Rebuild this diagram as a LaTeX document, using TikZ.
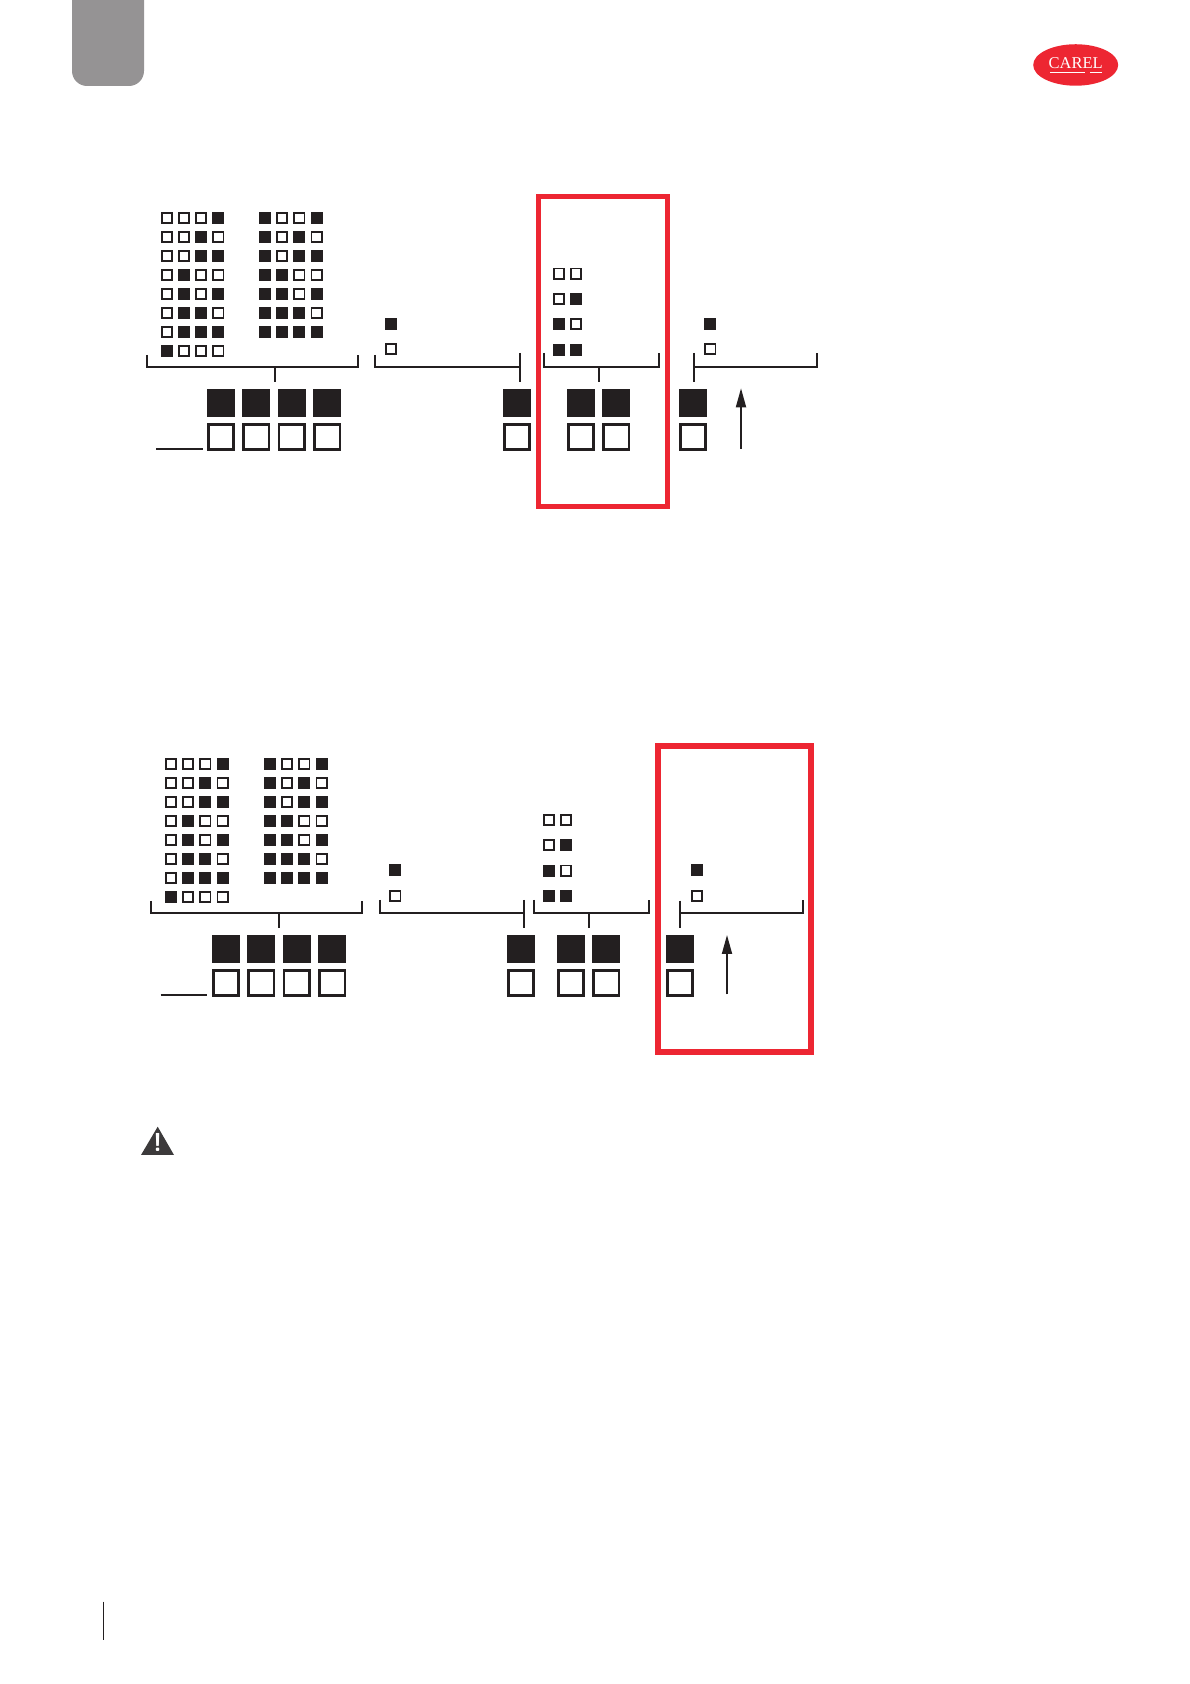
\documentclass[tikz,border=0pt]{standalone}
\usepackage{tikz}
\usepackage{fontspec}
\usetikzlibrary{arrows.meta,shapes.geometric}
\newfontfamily\logofont{Liberation Serif}
\definecolor{ink}{RGB}{35,31,32}
\definecolor{framered}{RGB}{237,38,50}
\definecolor{tabgray}{RGB}{149,147,148}
\definecolor{warngray}{RGB}{60,58,59}

\begin{document}
\begin{tikzpicture}[x=1pt, y=1pt,
  on/.style = {rectangle, fill=ink, minimum size=12pt, inner sep=0pt, node distance=17.2pt},
  off/.style = {rectangle, draw=ink, line width=1.8pt, minimum size=10.2pt, inner sep=0pt, node distance=17.2pt},
  bigon/.style = {rectangle, fill=ink, minimum size=28pt, inner sep=0pt, node distance=35.4pt},
  bigoff/.style = {rectangle, draw=ink, line width=2.6pt, minimum size=25.4pt, inner sep=0pt, node distance=35.4pt},
  nextrow/.style = {node distance=19pt, below of=#1},
  nextpair/.style = {node distance=25.3pt, below of=#1},
  under/.style = {node distance=34pt, below of=#1},
  rule/.style = {draw=ink, line width=1.8pt},
  frame/.style = {draw=framered, line width=4.8pt}]
\useasboundingbox (0,0) rectangle (1190,1684);

\fill[tabgray] (72,1684) [rounded corners=15pt] -- (72,1598) -- (144,1598) [sharp corners] -- (144,1684) -- cycle;
\node[ellipse, fill=framered, minimum width=85pt, minimum height=41.5pt, inner sep=0pt] (logo) at (1075.7,1619) {};
\node[text=white, font=\logofont\fontsize{16.5}{16.5}\selectfont, inner sep=0pt] (carel) at (1075.7,1621) {CAREL};
\draw[white, line width=1pt] (1050,1611) -- (1085,1611) (1090,1611) -- (1101.7,1611);

\node[off] (a11) at (166.7,1466) {};
\node[off] (a12) [right of=a11] {}; \node[off] (a13) [right of=a12] {}; \node[on] (a14) [right of=a13] {};
\node[off] (a21) [nextrow=a11] {}; \node[off] (a22) [right of=a21] {}; \node[on] (a23) [right of=a22] {}; \node[off] (a24) [right of=a23] {};
\node[off] (a31) [nextrow=a21] {}; \node[off] (a32) [right of=a31] {}; \node[on] (a33) [right of=a32] {}; \node[on] (a34) [right of=a33] {};
\node[off] (a41) [nextrow=a31] {}; \node[on] (a42) [right of=a41] {}; \node[off] (a43) [right of=a42] {}; \node[off] (a44) [right of=a43] {};
\node[off] (a51) [nextrow=a41] {}; \node[on] (a52) [right of=a51] {}; \node[off] (a53) [right of=a52] {}; \node[on] (a54) [right of=a53] {};
\node[off] (a61) [nextrow=a51] {}; \node[on] (a62) [right of=a61] {}; \node[on] (a63) [right of=a62] {}; \node[off] (a64) [right of=a63] {};
\node[off] (a71) [nextrow=a61] {}; \node[on] (a72) [right of=a71] {}; \node[on] (a73) [right of=a72] {}; \node[on] (a74) [right of=a73] {};
\node[on] (a81) [nextrow=a71] {}; \node[off] (a82) [right of=a81] {}; \node[off] (a83) [right of=a82] {}; \node[off] (a84) [right of=a83] {};

\node[on] (b11) at (265,1466) {};
\node[off] (b12) [right of=b11] {}; \node[off] (b13) [right of=b12] {}; \node[on] (b14) [right of=b13] {};
\node[on] (b21) [nextrow=b11] {}; \node[off] (b22) [right of=b21] {}; \node[on] (b23) [right of=b22] {}; \node[off] (b24) [right of=b23] {};
\node[on] (b31) [nextrow=b21] {}; \node[off] (b32) [right of=b31] {}; \node[on] (b33) [right of=b32] {}; \node[on] (b34) [right of=b33] {};
\node[on] (b41) [nextrow=b31] {}; \node[on] (b42) [right of=b41] {}; \node[off] (b43) [right of=b42] {}; \node[off] (b44) [right of=b43] {};
\node[on] (b51) [nextrow=b41] {}; \node[on] (b52) [right of=b51] {}; \node[off] (b53) [right of=b52] {}; \node[on] (b54) [right of=b53] {};
\node[on] (b61) [nextrow=b51] {}; \node[on] (b62) [right of=b61] {}; \node[on] (b63) [right of=b62] {}; \node[off] (b64) [right of=b63] {};
\node[on] (b71) [nextrow=b61] {}; \node[on] (b72) [right of=b71] {}; \node[on] (b73) [right of=b72] {}; \node[on] (b74) [right of=b73] {};

\node[on] (e1) at (391,1360) {};
\node[off] (e2) [nextpair=e1] {};
\node[off] (f11) at (559,1410.3) {}; \node[off] (f12) [right of=f11] {};
\node[off] (f21) [nextpair=f11] {}; \node[on] (f22) [right of=f21] {};
\node[on] (f31) [nextpair=f21] {}; \node[off] (f32) [right of=f31] {};
\node[on] (f41) [nextpair=f31] {}; \node[on] (f42) [right of=f41] {};
\node[on] (i1) at (710.3,1360) {};
\node[off] (i2) [nextpair=i1] {};

\node[bigon] (g1) at (221,1281) {}; \node[bigon] (g2) [right of=g1] {}; \node[bigon] (g3) [right of=g2] {}; \node[bigon] (g4) [right of=g3] {};
\node[bigon] (g5) at (517,1281) {}; \node[bigon] (g6) at (581,1281) {}; \node[bigon] (g7) [right of=g6] {}; \node[bigon] (g8) at (693,1281) {};
\node[bigoff] (h1) [under=g1] {}; \node[bigoff] (h2) [under=g2] {}; \node[bigoff] (h3) [under=g3] {}; \node[bigoff] (h4) [under=g4] {};
\node[bigoff] (h5) [under=g5] {}; \node[bigoff] (h6) [under=g6] {}; \node[bigoff] (h7) [under=g7] {}; \node[bigoff] (h8) [under=g8] {};

\coordinate (k1a) at (146.7,1329); \coordinate (k1b) at (358,1329); \coordinate (k1m) at (275,1317.3); \coordinate (k1c) at (275,1302);
\coordinate (k2a) at (375,1329); \coordinate (k2b) at (520,1331); \coordinate (k2m) at (520,1317.3); \coordinate (k2c) at (520,1302);
\coordinate (k3a) at (544,1331); \coordinate (k3b) at (659,1331); \coordinate (k3m) at (599,1317.3); \coordinate (k3c) at (599,1302);
\coordinate (k4a) at (694,1331); \coordinate (k4b) at (817,1331); \coordinate (k4m) at (694,1317.3); \coordinate (k4c) at (694,1302);
\coordinate (n1) at (156,1235.3); \coordinate (n2) at (203,1235.3);
\coordinate (m1) at (741,1235.3); \coordinate (m2) at (741,1295.7);
\draw[rule] (k1a) |- (k1m) -| (k1b);
\draw[rule] (k1m) -- (k1c);
\draw[rule] (k2a) |- (k2m);
\draw[rule] (k2b) -- (k2c);
\draw[rule] (k3a) |- (k3m) -| (k3b);
\draw[rule] (k3m) -- (k3c);
\draw[rule] (k4a) -- (k4c);
\draw[rule] (k4m) -| (k4b);
\draw[rule] (n1) -- (n2);
\draw[rule, -{Triangle[length=19pt,width=10pt]}] (m1) -- (m2);
\draw[frame] (538.4,1487.3) rectangle (667.6,1177.7);

\node[off] (c11) at (171,920) {};
\node[off] (c12) [right of=c11] {}; \node[off] (c13) [right of=c12] {}; \node[on] (c14) [right of=c13] {};
\node[off] (c21) [nextrow=c11] {}; \node[off] (c22) [right of=c21] {}; \node[on] (c23) [right of=c22] {}; \node[off] (c24) [right of=c23] {};
\node[off] (c31) [nextrow=c21] {}; \node[off] (c32) [right of=c31] {}; \node[on] (c33) [right of=c32] {}; \node[on] (c34) [right of=c33] {};
\node[off] (c41) [nextrow=c31] {}; \node[on] (c42) [right of=c41] {}; \node[off] (c43) [right of=c42] {}; \node[off] (c44) [right of=c43] {};
\node[off] (c51) [nextrow=c41] {}; \node[on] (c52) [right of=c51] {}; \node[off] (c53) [right of=c52] {}; \node[on] (c54) [right of=c53] {};
\node[off] (c61) [nextrow=c51] {}; \node[on] (c62) [right of=c61] {}; \node[on] (c63) [right of=c62] {}; \node[off] (c64) [right of=c63] {};
\node[off] (c71) [nextrow=c61] {}; \node[on] (c72) [right of=c71] {}; \node[on] (c73) [right of=c72] {}; \node[on] (c74) [right of=c73] {};
\node[on] (c81) [nextrow=c71] {}; \node[off] (c82) [right of=c81] {}; \node[off] (c83) [right of=c82] {}; \node[off] (c84) [right of=c83] {};

\node[on] (d11) at (270,920) {};
\node[off] (d12) [right of=d11] {}; \node[off] (d13) [right of=d12] {}; \node[on] (d14) [right of=d13] {};
\node[on] (d21) [nextrow=d11] {}; \node[off] (d22) [right of=d21] {}; \node[on] (d23) [right of=d22] {}; \node[off] (d24) [right of=d23] {};
\node[on] (d31) [nextrow=d21] {}; \node[off] (d32) [right of=d31] {}; \node[on] (d33) [right of=d32] {}; \node[on] (d34) [right of=d33] {};
\node[on] (d41) [nextrow=d31] {}; \node[on] (d42) [right of=d41] {}; \node[off] (d43) [right of=d42] {}; \node[off] (d44) [right of=d43] {};
\node[on] (d51) [nextrow=d41] {}; \node[on] (d52) [right of=d51] {}; \node[off] (d53) [right of=d52] {}; \node[on] (d54) [right of=d53] {};
\node[on] (d61) [nextrow=d51] {}; \node[on] (d62) [right of=d61] {}; \node[on] (d63) [right of=d62] {}; \node[off] (d64) [right of=d63] {};
\node[on] (d71) [nextrow=d61] {}; \node[on] (d72) [right of=d71] {}; \node[on] (d73) [right of=d72] {}; \node[on] (d74) [right of=d73] {};

\node[on] (p1) at (395.3,813.5) {};
\node[off] (p2) [nextpair=p1] {};
\node[off] (q11) at (549,864) {}; \node[off] (q12) [right of=q11] {};
\node[off] (q21) [nextpair=q11] {}; \node[on] (q22) [right of=q21] {};
\node[on] (q31) [nextpair=q21] {}; \node[off] (q32) [right of=q31] {};
\node[on] (q41) [nextpair=q31] {}; \node[on] (q42) [right of=q41] {};
\node[on] (r1) at (697,813.5) {};
\node[off] (r2) [nextpair=r1] {};

\node[bigon] (s1) at (226,735) {}; \node[bigon] (s2) [right of=s1] {}; \node[bigon] (s3) [right of=s2] {}; \node[bigon] (s4) [right of=s3] {};
\node[bigon] (s5) at (521,735) {}; \node[bigon] (s6) at (571,735) {}; \node[bigon] (s7) [right of=s6] {}; \node[bigon] (s8) at (680,735) {};
\node[bigoff] (t1) [under=s1] {}; \node[bigoff] (t2) [under=s2] {}; \node[bigoff] (t3) [under=s3] {}; \node[bigoff] (t4) [under=s4] {};
\node[bigoff] (t5) [under=s5] {}; \node[bigoff] (t6) [under=s6] {}; \node[bigoff] (t7) [under=s7] {}; \node[bigoff] (t8) [under=s8] {};

\coordinate (u1a) at (150.7,783); \coordinate (u1b) at (362,783); \coordinate (u1m) at (279,771); \coordinate (u1c) at (279,755.7);
\coordinate (u2a) at (380,784); \coordinate (u2b) at (524,784); \coordinate (u2m) at (524,771); \coordinate (u2c) at (524,755.7);
\coordinate (u3a) at (534,784); \coordinate (u3b) at (649,784); \coordinate (u3m) at (589,771); \coordinate (u3c) at (589,755.7);
\coordinate (u4a) at (680,783.3); \coordinate (u4b) at (803.3,784); \coordinate (u4m) at (680,771); \coordinate (u4c) at (680,755.7);
\coordinate (v1) at (160.7,689.3); \coordinate (v2) at (207.3,689.3);
\coordinate (w1) at (727,689.7); \coordinate (w2) at (727,749);
\draw[rule] (u1a) |- (u1m) -| (u1b);
\draw[rule] (u1m) -- (u1c);
\draw[rule] (u2a) |- (u2m);
\draw[rule] (u2b) -- (u2c);
\draw[rule] (u3a) |- (u3m) -| (u3b);
\draw[rule] (u3m) -- (u3c);
\draw[rule] (u4a) -- (u4c);
\draw[rule] (u4m) -| (u4b);
\draw[rule] (v1) -- (v2);
\draw[rule, -{Triangle[length=19pt,width=10pt]}] (w1) -- (w2);
\draw[frame, line width=6pt] (658,938) rectangle (811,632);

\fill[warngray] (141,529) -- (157.7,557.3) -- (174,529) -- cycle;
\node[text=white, font=\sffamily\bfseries\fontsize{26}{26}\selectfont, inner sep=0pt] (bang) at (157.7,541.5) {!};
\draw[ink, line width=1pt] (103.3,82.3) -- (103.3,44);
\end{tikzpicture}
\end{document}
